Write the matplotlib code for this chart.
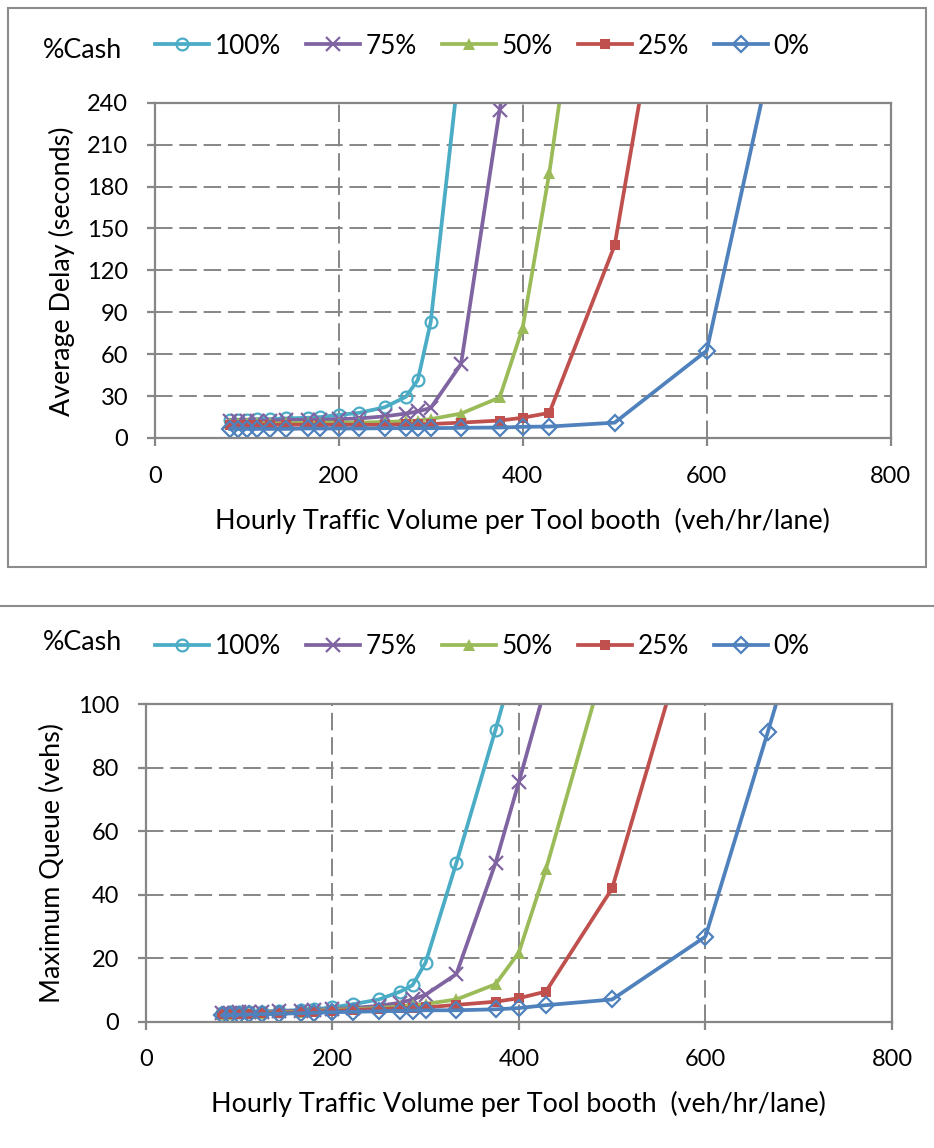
import matplotlib
matplotlib.use("Agg")
import matplotlib.pyplot as plt
from matplotlib.lines import Line2D
from matplotlib.patches import Rectangle

plt.rcParams["font.family"] = ["Lato", "DejaVu Sans"]

W, H = 934, 1148
FS_TICK = 17
FS_TEXT = 19.4
FS_LEG = 18.8

# hourly volume per booth (veh/hr/lane)
VOL = [82, 90, 100, 111, 125, 143, 167, 180, 200, 222, 250, 273, 286, 300,
       333, 375, 400, 429, 500, 600, 667, 700]

LABELS = ["100%", "75%", "50%", "25%", "0%"]
COLORS = ["#4BACC6", "#8064A2", "#9BBB59", "#C0504D", "#4F81BD"]

# average delay (seconds), one list per %cash; last point lies above the axis
DELAY_100 = [13, 13, 13, 13.5, 13.5, 14, 14.5, 15, 16.5, 18, 22, 29.5, 41.5, 83, 278]
DELAY_75 = [12.5, 12.5, 12.5, 12.5, 12.5, 13, 13, 13, 13.5, 14, 15.5, 17.5, 19, 21.5, 53, 235, 330]
DELAY_50 = [10.5, 10.5, 10.5, 10.5, 10.5, 10.5, 11, 11, 11, 11, 11.5, 12, 12.5, 13.5, 17.5, 29, 79, 190, 519]
DELAY_25 = [9.5, 9.5, 9.5, 9.5, 9.5, 9.5, 9.5, 9.5, 9.5, 9.5, 9.5, 9.8, 10, 10, 11, 12.5, 14.5, 18, 138, 520]
DELAY_0 = [6.5, 6.5, 6.5, 6.5, 6.5, 6.5, 6.8, 6.8, 6.8, 6.8, 7, 7, 7, 7, 7.3, 7.5, 8, 8.2, 11, 62.5, 263]

# maximum queue (vehs)
QUEUE_100 = [2.8, 2.9, 3, 3, 3.2, 3.4, 3.7, 3.9, 4.5, 5.5, 7, 9.5, 11.5, 18.6, 50, 92, 118]
QUEUE_75 = [2.8, 2.8, 2.9, 3, 3.1, 3.3, 3.5, 3.7, 4, 4.3, 5, 6, 7, 8.5, 15, 50, 75.5, 106]
QUEUE_50 = [2.5, 2.5, 2.6, 2.7, 2.8, 3, 3.2, 3.4, 3.7, 4, 4.3, 4.8, 5.2, 5.6, 7, 11.8, 21.8, 48, 121]
QUEUE_25 = [2.3, 2.3, 2.4, 2.5, 2.6, 2.8, 3, 3.2, 3.4, 3.7, 4, 4.2, 4.4, 4.5, 5.3, 6.3, 7.4, 9.5, 42, 142]
QUEUE_0 = [2, 2.1, 2.2, 2.3, 2.4, 2.5, 2.7, 2.8, 3, 3.1, 3.3, 3.4, 3.5, 3.6, 3.6, 3.9, 4.3, 5.2, 7, 26.8, 91.4, 124]

DELAY = [DELAY_100, DELAY_75, DELAY_50, DELAY_25, DELAY_0]
QUEUE = [QUEUE_100, QUEUE_75, QUEUE_50, QUEUE_25, QUEUE_0]

MARKERS = [
    dict(marker="o", markersize=8.5, markerfacecolor="none", markeredgewidth=1.6),
    dict(marker="x", markersize=10, markeredgewidth=1.6),
    dict(marker="^", markersize=9, markeredgewidth=0),
    dict(marker="s", markersize=7.5, markeredgewidth=0),
    dict(marker="D", markersize=8.5, markerfacecolor="none", markeredgewidth=1.6),
]

GRID = "#868686"

fig = plt.figure(figsize=(W / 100, H / 100), dpi=100)


def px_axes(left, right, top, bottom):
    return fig.add_axes([left / W, 1 - bottom / H, (right - left) / W, (bottom - top) / H])


def style_axes(ax, ymax, ystep):
    ax.set_xlim(0, 800)
    ax.set_ylim(0, ymax)
    ax.set_xticks(range(0, 801, 200))
    ax.set_yticks(range(0, ymax + 1, ystep))
    for s in ax.spines.values():
        s.set_color(GRID)
        s.set_linewidth(1.6)
    ax.grid(True, color=GRID, linewidth=1.4, linestyle=(0, (9, 3.5)))
    ax.set_axisbelow(True)
    ax.tick_params(axis="both", colors=GRID, labelcolor="black", labelsize=FS_TICK,
                   width=1.6, length=6)
    ax.tick_params(axis="x", pad=14)
    ax.tick_params(axis="y", pad=13)
    ax.set_xlabel("Hourly Traffic Volume per Tool booth  (veh/hr/lane)", fontsize=FS_TEXT,
                  labelpad=15)


def draw_series(ax, series):
    for vals, lab, col, mk in zip(series, LABELS, COLORS, MARKERS):
        ax.plot(VOL[:len(vals)], vals, color=col, linewidth=2.7, label=lab,
                markeredgecolor=col, clip_on=True, **mk)


def add_legend(ax, y, y_cash):
    fig.text(43 / W, 1 - y_cash / H, "%Cash", fontsize=FS_TEXT, va="center", ha="left")
    ax.legend(loc="center left", bbox_to_anchor=(155 / W, 1 - y / H),
              bbox_transform=fig.transFigure, ncol=5, frameon=False, fontsize=FS_LEG,
              handlelength=2.07, handletextpad=0.22, columnspacing=0.95,
              borderpad=0, borderaxespad=0)


# top panel: average delay
ax1 = px_axes(154.7, 890.7, 102.7, 438)
draw_series(ax1, DELAY)
style_axes(ax1, 240, 30)
add_legend(ax1, 46, 51)
fig.text(62 / W, 1 - 271 / H, "Average Delay (seconds)", rotation=90, fontsize=FS_TEXT,
         ha="center", va="center")

# bottom panel: maximum queue
ax2 = px_axes(145.7, 892, 704.3, 1021.7)
draw_series(ax2, QUEUE)
style_axes(ax2, 100, 20)
add_legend(ax2, 647, 643)
fig.text(52 / W, 1 - 863 / H, "Maximum Queue (vehs)", rotation=90, fontsize=FS_TEXT,
         ha="center", va="center")

# chart frames
fig.add_artist(Rectangle((8 / W, 1 - 567 / H), 918 / W, 559 / H, transform=fig.transFigure,
                         fill=False, edgecolor="#8C8C8C", linewidth=1.5))
fig.add_artist(Line2D([0, 1], [1 - 606 / H, 1 - 606 / H], transform=fig.transFigure,
                      color="#8C8C8C", linewidth=1.5))

fig.savefig("out.png", dpi=100)
